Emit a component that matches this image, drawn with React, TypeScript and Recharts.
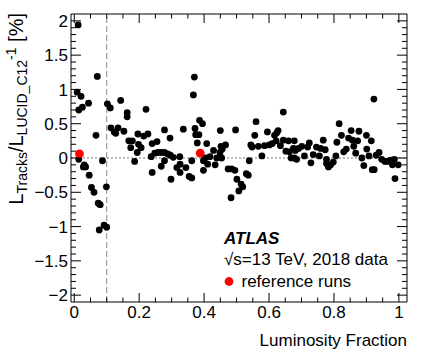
import { ScatterChart, Scatter, XAxis, YAxis, ReferenceLine } from "recharts";

// run-by-run ratio vs luminosity fraction
const runX = [
  0.009, 0.012, 0.014, 0.014, 0.021, 0.025, 0.028, 0.031, 0.035, 0.044,
  0.046, 0.053, 0.061, 0.067, 0.071, 0.074, 0.077, 0.08, 0.087, 0.092,
  0.099, 0.1, 0.102, 0.111, 0.113, 0.123, 0.128, 0.135, 0.143, 0.153,
  0.163, 0.163, 0.168, 0.174, 0.179, 0.186, 0.194, 0.196, 0.198, 0.206,
  0.214, 0.221, 0.227, 0.237, 0.24, 0.24, 0.248, 0.255, 0.258, 0.268,
  0.268, 0.278, 0.278, 0.278, 0.288, 0.295, 0.296, 0.298, 0.305, 0.316,
  0.325, 0.326, 0.326, 0.336, 0.344, 0.354, 0.362, 0.362, 0.367, 0.37,
  0.372, 0.374, 0.379, 0.384, 0.386, 0.395, 0.398, 0.398, 0.403, 0.408,
  0.411, 0.418, 0.429, 0.434, 0.439, 0.449, 0.45, 0.452, 0.454, 0.456,
  0.466, 0.474, 0.483, 0.485, 0.495, 0.497, 0.501, 0.507, 0.514, 0.519,
  0.53, 0.536, 0.539, 0.544, 0.548, 0.556, 0.56, 0.567, 0.578, 0.586,
  0.595, 0.601, 0.61, 0.617, 0.622, 0.624, 0.628, 0.635, 0.644, 0.644,
  0.652, 0.66, 0.663, 0.668, 0.675, 0.678, 0.678, 0.681, 0.685, 0.691,
  0.701, 0.709, 0.719, 0.724, 0.729, 0.736, 0.746, 0.755, 0.759, 0.767,
  0.773, 0.777, 0.777, 0.783, 0.79, 0.798, 0.806, 0.809, 0.816, 0.823,
  0.83, 0.838, 0.845, 0.853, 0.857, 0.861, 0.867, 0.873, 0.877, 0.886,
  0.892, 0.9, 0.901, 0.908, 0.915, 0.918, 0.923, 0.924, 0.93, 0.939,
  0.947, 0.957, 0.965, 0.975, 0.98, 0.986, 0.988, 0.998,
];
const runY = [
  0.96, 1.94, 0.7, -0.02, 0.9, 0.74, -0.13, -0.1, -0.13, 0.8,
  -0.25, -0.43, -0.5, 0.33, 1.19, -0.66, -1.05, -0.68, -0.04, -0.98,
  -0.42, -1.01, 0.79, 0.73, 0.44, 0.38, 0.36, 0.44, 0.84, 0.39,
  0.66, 0.6, 0.25, 0.15, 0.25, -0.05, 0.08, 0.35, 0.2, 0.15,
  0.32, 0.71, 0.35, 0.02, 0.21, -0.21, 0.07, 0.24, 0.08, -0.12,
  0.08, 0.41, 0.08, -0.04, 0.06, 0.29, 0.04, -0.31, 0.01, -0.14,
  0.02, -0.09, -0.21, 0.42, -0.14, -0.27, -0.04, -0.29, 0.92, 1.18,
  0.43, 0.34, 0.22, 0.34, 0.55, 0.5, -0.04, -0.18, 0.0, 0.21,
  -0.09, 0.02, 0.11, -0.1, 0.0, 0.08, 0.4, 0.17, 0.0, 0.13,
  0.19, -0.16, -0.58, -0.16, -0.18, 0.41, -0.31, -0.48, -0.38, -0.42,
  -0.23, -0.25, -0.04, 0.19, 0.16, 0.33, 0.53, 0.17, 0.03, 0.18,
  0.38, 0.19, 0.21, 0.33, 0.25, 0.37, 0.4, 0.18, 0.26, 0.67,
  0.1, 0.25, 0.09, 0.0, 0.14, 0.25, 0.0, 0.11, -0.02, 0.14,
  0.17, 0.03, 0.16, 0.22, -0.07, 0.05, 0.16, 0.03, 0.14, 0.26,
  0.12, -0.02, -0.08, -0.13, -0.1, -0.06, 0.03, 0.23, 0.5, 0.33,
  0.09, 0.13, 0.29, 0.4, 0.26, 0.17, 0.07, 0.25, 0.39, 0.0,
  -0.11, 0.33, 0.13, 0.03, 0.25, -0.17, 0.86, -0.17, 0.04, 0.08,
  -0.02, -0.05, -0.05, -0.03, -0.1, -0.02, -0.3, -0.1,
];

// reference runs (red)
const refX = [0.016, 0.388];
const refY = [0.06, 0.07];

const xTicks = [
  0, 0.05, 0.1, 0.15, 0.2, 0.25, 0.3, 0.35, 0.4, 0.45, 0.5,
  0.55, 0.6, 0.65, 0.7, 0.75, 0.8, 0.85, 0.9, 0.95, 1,
];
const xLabels = [0, 0.2, 0.4, 0.6, 0.8, 1];
const yTicks = [
  -2, -1.9, -1.8, -1.7, -1.6, -1.5, -1.4, -1.3, -1.2, -1.1, -1,
  -0.9, -0.8, -0.7, -0.6, -0.5, -0.4, -0.3, -0.2, -0.1, 0,
  0.1, 0.2, 0.3, 0.4, 0.5, 0.6, 0.7, 0.8, 0.9, 1,
  1.1, 1.2, 1.3, 1.4, 1.5, 1.6, 1.7, 1.8, 1.9, 2,
];
const yLabels = [-2, -1.5, -1, -0.5, 0, 0.5, 1, 1.5, 2];

const runs = runX.map((x, i) => ({ x, y: runY[i] }));
const refs = refX.map((x, i) => ({ x, y: refY[i] }));

// frame edges
const L = 71;
const R = 407;
const T = 14;
const B = 302;
const font = "'Liberation Sans', Arial, Helvetica, sans-serif";

const inList = (list: number[], v: number) => list.some((t) => Math.abs(t - v) < 1e-6);
const fmt = (v: number) => String(v).replace("-", "\u2212");

const LeftTick = (p: any) => {
  const major = inList(yLabels, p.payload.value);
  return (
    <g>
      <line x1={L} x2={L + (major ? 10 : 5)} y1={p.y} y2={p.y} stroke="#000" />
      {major && (
        <text x={L - 3} y={p.y} dy="0.36em" textAnchor="end" fontSize={17} fontFamily={font} fill="#000">
          {fmt(p.payload.value)}
        </text>
      )}
    </g>
  );
};

const RightTick = (p: any) => {
  const major = inList(yLabels, p.payload.value);
  return <line x1={R} x2={R - (major ? 10 : 5)} y1={p.y} y2={p.y} stroke="#000" />;
};

const BottomTick = (p: any) => {
  const major = inList(xLabels, p.payload.value);
  return (
    <g>
      <line x1={p.x} x2={p.x} y1={B} y2={B - (major ? 9 : 4.5)} stroke="#000" />
      {major && (
        <text x={p.x} y={B + 15.5} textAnchor="middle" fontSize={17} fontFamily={font} fill="#000">
          {fmt(p.payload.value)}
        </text>
      )}
    </g>
  );
};

const TopTick = (p: any) => {
  const major = inList(xLabels, p.payload.value);
  return <line x1={p.x} x2={p.x} y1={T} y2={T + (major ? 9 : 4.5)} stroke="#000" />;
};

export default function App() {
  return (
    <div style={{ position: "absolute", left: 0, top: 0, width: 425, height: 362, background: "#fff" }}>
      <ScatterChart width={425} height={362} margin={{ top: T - 1, right: 425 - R - 1, bottom: 0, left: 0 }}>
        <XAxis
          xAxisId="b"
          dataKey="x"
          type="number"
          domain={[-0.01, 1.025]}
          ticks={xTicks}
          interval={0}
          tick={(p: any) => <BottomTick {...p} />}
          tickLine={false}
          axisLine={{ stroke: "#000" }}
          height={362 - B}
          allowDataOverflow
        />
        <XAxis
          xAxisId="t"
          orientation="top"
          dataKey="x"
          type="number"
          domain={[-0.01, 1.025]}
          ticks={xTicks}
          interval={0}
          tick={(p: any) => <TopTick {...p} />}
          tickLine={false}
          axisLine={{ stroke: "#000" }}
          height={1}
          allowDataOverflow
        />
        <YAxis
          yAxisId="l"
          dataKey="y"
          type="number"
          domain={[-2.1, 2.1]}
          ticks={yTicks}
          interval={0}
          tick={(p: any) => <LeftTick {...p} />}
          tickLine={false}
          axisLine={{ stroke: "#000" }}
          width={L}
          allowDataOverflow
        />
        <YAxis
          yAxisId="r"
          orientation="right"
          dataKey="y"
          type="number"
          domain={[-2.1, 2.1]}
          ticks={yTicks}
          interval={0}
          tick={(p: any) => <RightTick {...p} />}
          tickLine={false}
          axisLine={{ stroke: "#000" }}
          width={1}
          allowDataOverflow
        />
        <ReferenceLine xAxisId="b" yAxisId="l" x={0.1} stroke="#8a8a8a" strokeDasharray="6 3" />
        <ReferenceLine xAxisId="b" yAxisId="l" y={0} stroke="#777" strokeDasharray="2 2" />
        <Scatter
          xAxisId="b"
          yAxisId="l"
          data={runs}
          fill="#000"
          isAnimationActive={false}
          shape={(p: any) => <circle cx={p.cx} cy={p.cy} r={3.4} fill="#000" />}
        />
        <Scatter
          xAxisId="t"
          yAxisId="r"
          data={refs}
          fill="#ff0000"
          isAnimationActive={false}
          shape={(p: any) => <circle cx={p.cx} cy={p.cy} r={4.4} fill="#ff0000" />}
        />
      </ScatterChart>
      <svg
        width={425}
        height={362}
        style={{ position: "absolute", left: 0, top: 0, pointerEvents: "none" }}
        fontFamily={font}
      >
        <text transform="rotate(-90)" x={-13} y={23} textAnchor="end" fontSize={20} fill="#000">
          L<tspan fontSize={14} dy={3.5}>Tracks</tspan>
          <tspan dy={-3.5}>/L</tspan>
          <tspan fontSize={14} dy={3.5}>LUCID_C12</tspan>
          <tspan fontSize={14} dy={-11}>-1</tspan>
          <tspan dy={7.5}>{" [%]"}</tspan>
        </text>
        <text x={R} y={346} textAnchor="end" fontSize={17} fill="#000">
          Luminosity Fraction
        </text>
        <text x={224} y={244} fontSize={17} fontWeight="bold" fontStyle="italic" fill="#000">
          ATLAS
        </text>
        <text x={224} y={264.5} fontSize={17} fill="#000">
          {"\u221As=13 TeV, 2018 data"}
        </text>
        <circle cx={229} cy={281.5} r={4.4} fill="#ff0000" />
        <text x={241.5} y={287} fontSize={17} fill="#000">
          reference runs
        </text>
      </svg>
    </div>
  );
}
